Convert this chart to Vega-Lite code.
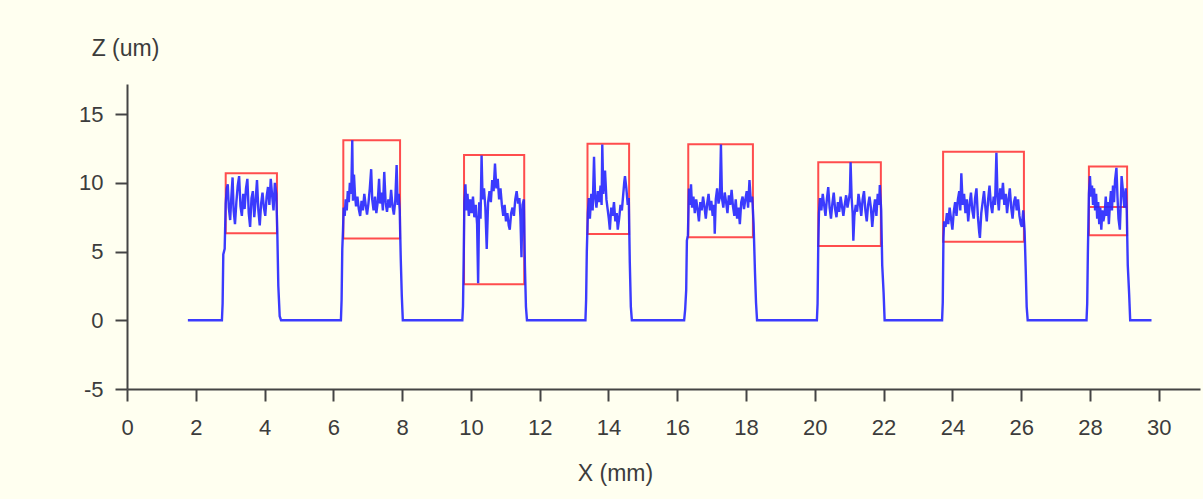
{
  "$schema": "https://vega.github.io/schema/vega-lite/v6.json",
  "width": 1073,
  "height": 305,
  "autosize": {"type": "none"},
  "padding": {"left": 127, "top": 84, "right": 3, "bottom": 110},
  "background": "#fffff0",
  "config": {
    "view": {"stroke": null},
    "font": "Liberation Sans",
    "axis": {
      "grid": false,
      "domainColor": "#444444",
      "domainWidth": 2,
      "tickColor": "#444444",
      "tickWidth": 2,
      "tickSize": 12,
      "labelFont": "Liberation Sans",
      "labelFontSize": 22,
      "labelColor": "#3c3c3c",
      "titleFont": "Liberation Sans",
      "titleFontSize": 23,
      "titleFontWeight": "normal",
      "titleColor": "#3c3c3c"
    }
  },
  "datasets": {
    "boxes": [
      {"x0": 2.87, "x1": 4.36, "zlo": 6.33, "zhi": 10.7},
      {"x0": 6.29, "x1": 7.94, "zlo": 5.96, "zhi": 13.1},
      {"x0": 9.8, "x1": 11.55, "zlo": 2.63, "zhi": 12.04},
      {"x0": 13.39, "x1": 14.6, "zlo": 6.28, "zhi": 12.85},
      {"x0": 16.32, "x1": 18.2, "zlo": 6.04, "zhi": 12.82},
      {"x0": 20.1, "x1": 21.92, "zlo": 5.4, "zhi": 11.5},
      {"x0": 23.73, "x1": 26.08, "zlo": 5.72, "zhi": 12.26},
      {"x0": 27.97, "x1": 29.08, "zlo": 6.2, "zhi": 11.19}
    ],
    "midlines": [
      {"x0": 27.97, "x1": 29.08, "z": 8.25}
    ],
    "profile": [
      {"x": 1.77, "z": 0}, {"x": 2.76, "z": 0}, {"x": 2.78, "z": 1.2}, {"x": 2.8, "z": 4.8}, {"x": 2.84, "z": 5.2}, {"x": 2.87, "z": 8.5}, {"x": 2.9, "z": 9.6}, {"x": 2.93, "z": 9.9}, {"x": 2.96, "z": 8.2}, {"x": 3.0, "z": 7.3}, {"x": 3.03, "z": 8.8}, {"x": 3.07, "z": 10.4}, {"x": 3.1, "z": 8.0}, {"x": 3.14, "z": 7.0}, {"x": 3.18, "z": 8.6}, {"x": 3.22, "z": 9.8}, {"x": 3.26, "z": 10.5}, {"x": 3.3, "z": 8.3}, {"x": 3.34, "z": 7.6}, {"x": 3.38, "z": 9.2}, {"x": 3.42, "z": 8.1}, {"x": 3.46, "z": 9.6}, {"x": 3.5, "z": 10.3}, {"x": 3.54, "z": 7.8}, {"x": 3.58, "z": 6.8}, {"x": 3.62, "z": 8.9}, {"x": 3.66, "z": 9.4}, {"x": 3.7, "z": 7.5}, {"x": 3.74, "z": 8.7}, {"x": 3.78, "z": 10.2}, {"x": 3.82, "z": 8.0}, {"x": 3.86, "z": 6.9}, {"x": 3.9, "z": 8.5}, {"x": 3.94, "z": 9.3}, {"x": 3.98, "z": 8.2}, {"x": 4.02, "z": 7.6}, {"x": 4.06, "z": 9.0}, {"x": 4.1, "z": 9.7}, {"x": 4.14, "z": 8.4}, {"x": 4.18, "z": 10.3}, {"x": 4.22, "z": 9.1}, {"x": 4.26, "z": 8.0}, {"x": 4.3, "z": 10.0}, {"x": 4.34, "z": 9.2}, {"x": 4.37, "z": 6.5}, {"x": 4.4, "z": 2.5}, {"x": 4.44, "z": 0.3}, {"x": 4.48, "z": 0},
      {"x": 6.22, "z": 0}, {"x": 6.24, "z": 1.5}, {"x": 6.26, "z": 5.2}, {"x": 6.28, "z": 6.5}, {"x": 6.3, "z": 8.2}, {"x": 6.33, "z": 7.6}, {"x": 6.36, "z": 8.8}, {"x": 6.39, "z": 8.0}, {"x": 6.42, "z": 9.4}, {"x": 6.45, "z": 8.6}, {"x": 6.48, "z": 10.0}, {"x": 6.52, "z": 9.2}, {"x": 6.55, "z": 13.1}, {"x": 6.57, "z": 8.7}, {"x": 6.6, "z": 10.6}, {"x": 6.63, "z": 9.1}, {"x": 6.66, "z": 8.3}, {"x": 6.7, "z": 9.0}, {"x": 6.74, "z": 8.1}, {"x": 6.78, "z": 7.6}, {"x": 6.82, "z": 8.7}, {"x": 6.86, "z": 8.0}, {"x": 6.9, "z": 9.2}, {"x": 6.94, "z": 8.4}, {"x": 6.98, "z": 7.7}, {"x": 7.02, "z": 8.5}, {"x": 7.06, "z": 9.6}, {"x": 7.1, "z": 11.0}, {"x": 7.13, "z": 8.8}, {"x": 7.17, "z": 8.0}, {"x": 7.21, "z": 9.0}, {"x": 7.25, "z": 7.8}, {"x": 7.29, "z": 8.6}, {"x": 7.33, "z": 10.3}, {"x": 7.36, "z": 8.5}, {"x": 7.4, "z": 9.3}, {"x": 7.44, "z": 8.0}, {"x": 7.48, "z": 10.8}, {"x": 7.52, "z": 8.6}, {"x": 7.56, "z": 7.9}, {"x": 7.6, "z": 8.8}, {"x": 7.64, "z": 8.2}, {"x": 7.68, "z": 9.5}, {"x": 7.72, "z": 8.3}, {"x": 7.76, "z": 7.7}, {"x": 7.8, "z": 8.7}, {"x": 7.84, "z": 11.3}, {"x": 7.87, "z": 8.4}, {"x": 7.9, "z": 9.2}, {"x": 7.93, "z": 8.0}, {"x": 7.96, "z": 4.5}, {"x": 7.99, "z": 1.8}, {"x": 8.02, "z": 0},
      {"x": 9.75, "z": 0}, {"x": 9.77, "z": 1.0}, {"x": 9.79, "z": 4.5}, {"x": 9.81, "z": 8.6}, {"x": 9.84, "z": 9.9}, {"x": 9.87, "z": 8.0}, {"x": 9.9, "z": 9.2}, {"x": 9.94, "z": 7.6}, {"x": 9.98, "z": 8.8}, {"x": 10.02, "z": 7.8}, {"x": 10.06, "z": 9.0}, {"x": 10.1, "z": 7.5}, {"x": 10.14, "z": 8.4}, {"x": 10.18, "z": 7.0}, {"x": 10.21, "z": 2.7}, {"x": 10.24, "z": 8.6}, {"x": 10.28, "z": 7.4}, {"x": 10.31, "z": 12.0}, {"x": 10.34, "z": 8.8}, {"x": 10.38, "z": 9.6}, {"x": 10.42, "z": 8.2}, {"x": 10.46, "z": 5.2}, {"x": 10.5, "z": 8.6}, {"x": 10.54, "z": 9.4}, {"x": 10.58, "z": 8.6}, {"x": 10.62, "z": 10.2}, {"x": 10.66, "z": 9.4}, {"x": 10.7, "z": 11.4}, {"x": 10.74, "z": 9.6}, {"x": 10.78, "z": 10.3}, {"x": 10.82, "z": 8.8}, {"x": 10.86, "z": 9.6}, {"x": 10.9, "z": 8.4}, {"x": 10.94, "z": 7.6}, {"x": 10.98, "z": 8.4}, {"x": 11.02, "z": 7.2}, {"x": 11.06, "z": 7.8}, {"x": 11.1, "z": 6.9}, {"x": 11.13, "z": 6.6}, {"x": 11.17, "z": 7.8}, {"x": 11.21, "z": 8.2}, {"x": 11.25, "z": 7.6}, {"x": 11.29, "z": 8.8}, {"x": 11.33, "z": 9.4}, {"x": 11.37, "z": 8.5}, {"x": 11.41, "z": 8.9}, {"x": 11.44, "z": 7.5}, {"x": 11.47, "z": 4.6}, {"x": 11.5, "z": 8.4}, {"x": 11.54, "z": 8.8}, {"x": 11.57, "z": 4.0}, {"x": 11.6, "z": 1.0}, {"x": 11.63, "z": 0},
      {"x": 13.33, "z": 0}, {"x": 13.35, "z": 1.5}, {"x": 13.37, "z": 5.0}, {"x": 13.4, "z": 7.8}, {"x": 13.43, "z": 8.9}, {"x": 13.46, "z": 7.4}, {"x": 13.5, "z": 9.2}, {"x": 13.54, "z": 8.0}, {"x": 13.58, "z": 11.9}, {"x": 13.61, "z": 9.0}, {"x": 13.65, "z": 8.2}, {"x": 13.69, "z": 9.4}, {"x": 13.73, "z": 8.6}, {"x": 13.77, "z": 9.8}, {"x": 13.8, "z": 8.4}, {"x": 13.82, "z": 12.8}, {"x": 13.85, "z": 9.2}, {"x": 13.9, "z": 10.9}, {"x": 13.94, "z": 8.8}, {"x": 13.98, "z": 8.0}, {"x": 14.01, "z": 7.4}, {"x": 14.04, "z": 6.6}, {"x": 14.08, "z": 8.2}, {"x": 14.12, "z": 7.6}, {"x": 14.16, "z": 8.6}, {"x": 14.2, "z": 7.2}, {"x": 14.24, "z": 7.8}, {"x": 14.27, "z": 6.6}, {"x": 14.31, "z": 7.4}, {"x": 14.35, "z": 8.4}, {"x": 14.39, "z": 8.0}, {"x": 14.43, "z": 9.2}, {"x": 14.46, "z": 10.1}, {"x": 14.48, "z": 10.5}, {"x": 14.52, "z": 9.6}, {"x": 14.56, "z": 8.4}, {"x": 14.59, "z": 8.9}, {"x": 14.62, "z": 4.2}, {"x": 14.65, "z": 1.0}, {"x": 14.68, "z": 0},
      {"x": 16.2, "z": 0}, {"x": 16.23, "z": 0.8}, {"x": 16.26, "z": 2.2}, {"x": 16.28, "z": 5.8}, {"x": 16.31, "z": 6.2}, {"x": 16.34, "z": 9.6}, {"x": 16.37, "z": 8.4}, {"x": 16.4, "z": 9.9}, {"x": 16.43, "z": 8.2}, {"x": 16.47, "z": 9.0}, {"x": 16.51, "z": 7.8}, {"x": 16.55, "z": 8.8}, {"x": 16.59, "z": 8.1}, {"x": 16.63, "z": 7.2}, {"x": 16.67, "z": 8.6}, {"x": 16.71, "z": 8.0}, {"x": 16.75, "z": 9.0}, {"x": 16.79, "z": 8.3}, {"x": 16.83, "z": 7.4}, {"x": 16.87, "z": 8.5}, {"x": 16.91, "z": 9.2}, {"x": 16.95, "z": 8.0}, {"x": 16.99, "z": 8.7}, {"x": 17.03, "z": 7.6}, {"x": 17.07, "z": 8.4}, {"x": 17.09, "z": 6.3}, {"x": 17.12, "z": 8.8}, {"x": 17.16, "z": 9.6}, {"x": 17.2, "z": 8.5}, {"x": 17.24, "z": 9.0}, {"x": 17.27, "z": 12.8}, {"x": 17.3, "z": 8.9}, {"x": 17.34, "z": 8.2}, {"x": 17.38, "z": 9.3}, {"x": 17.42, "z": 8.6}, {"x": 17.46, "z": 7.8}, {"x": 17.5, "z": 9.1}, {"x": 17.54, "z": 8.4}, {"x": 17.58, "z": 9.5}, {"x": 17.62, "z": 8.3}, {"x": 17.66, "z": 7.6}, {"x": 17.7, "z": 8.8}, {"x": 17.74, "z": 7.4}, {"x": 17.78, "z": 8.2}, {"x": 17.82, "z": 7.0}, {"x": 17.86, "z": 8.6}, {"x": 17.9, "z": 9.0}, {"x": 17.94, "z": 8.1}, {"x": 17.98, "z": 8.8}, {"x": 18.02, "z": 9.4}, {"x": 18.06, "z": 8.2}, {"x": 18.1, "z": 10.2}, {"x": 18.14, "z": 8.6}, {"x": 18.18, "z": 9.0}, {"x": 18.22, "z": 7.0}, {"x": 18.26, "z": 3.5}, {"x": 18.29, "z": 1.3}, {"x": 18.32, "z": 0},
      {"x": 20.06, "z": 0}, {"x": 20.08, "z": 1.2}, {"x": 20.1, "z": 5.5}, {"x": 20.12, "z": 7.8}, {"x": 20.15, "z": 8.9}, {"x": 20.19, "z": 8.0}, {"x": 20.23, "z": 9.2}, {"x": 20.27, "z": 8.4}, {"x": 20.31, "z": 7.6}, {"x": 20.35, "z": 8.8}, {"x": 20.39, "z": 9.7}, {"x": 20.43, "z": 8.2}, {"x": 20.47, "z": 7.4}, {"x": 20.51, "z": 8.5}, {"x": 20.55, "z": 9.3}, {"x": 20.59, "z": 8.1}, {"x": 20.63, "z": 7.5}, {"x": 20.67, "z": 8.6}, {"x": 20.71, "z": 7.9}, {"x": 20.75, "z": 9.0}, {"x": 20.79, "z": 8.3}, {"x": 20.83, "z": 7.6}, {"x": 20.87, "z": 8.4}, {"x": 20.91, "z": 9.1}, {"x": 20.95, "z": 8.2}, {"x": 20.99, "z": 8.8}, {"x": 21.02, "z": 9.3}, {"x": 21.04, "z": 11.5}, {"x": 21.07, "z": 8.9}, {"x": 21.1, "z": 7.8}, {"x": 21.12, "z": 5.8}, {"x": 21.15, "z": 7.6}, {"x": 21.19, "z": 8.4}, {"x": 21.23, "z": 7.9}, {"x": 21.27, "z": 9.2}, {"x": 21.31, "z": 8.5}, {"x": 21.35, "z": 7.6}, {"x": 21.39, "z": 8.8}, {"x": 21.43, "z": 9.4}, {"x": 21.47, "z": 8.0}, {"x": 21.51, "z": 7.2}, {"x": 21.55, "z": 8.4}, {"x": 21.59, "z": 9.0}, {"x": 21.63, "z": 8.2}, {"x": 21.67, "z": 6.8}, {"x": 21.71, "z": 8.0}, {"x": 21.75, "z": 8.8}, {"x": 21.79, "z": 7.6}, {"x": 21.83, "z": 9.2}, {"x": 21.87, "z": 8.4}, {"x": 21.89, "z": 9.85}, {"x": 21.93, "z": 8.0}, {"x": 21.96, "z": 4.0}, {"x": 22.0, "z": 2.0}, {"x": 22.03, "z": 0},
      {"x": 23.7, "z": 0}, {"x": 23.72, "z": 1.3}, {"x": 23.74, "z": 6.0}, {"x": 23.76, "z": 7.2}, {"x": 23.8, "z": 6.8}, {"x": 23.84, "z": 7.8}, {"x": 23.88, "z": 7.0}, {"x": 23.92, "z": 8.2}, {"x": 23.96, "z": 7.4}, {"x": 24.0, "z": 6.6}, {"x": 24.04, "z": 7.9}, {"x": 24.08, "z": 8.6}, {"x": 24.12, "z": 7.6}, {"x": 24.16, "z": 8.8}, {"x": 24.2, "z": 9.4}, {"x": 24.23, "z": 8.0}, {"x": 24.26, "z": 10.7}, {"x": 24.3, "z": 8.4}, {"x": 24.34, "z": 9.2}, {"x": 24.38, "z": 7.8}, {"x": 24.42, "z": 8.8}, {"x": 24.46, "z": 7.2}, {"x": 24.5, "z": 8.4}, {"x": 24.54, "z": 9.3}, {"x": 24.58, "z": 8.0}, {"x": 24.62, "z": 7.4}, {"x": 24.66, "z": 8.9}, {"x": 24.7, "z": 9.6}, {"x": 24.74, "z": 7.6}, {"x": 24.78, "z": 6.4}, {"x": 24.8, "z": 6.0}, {"x": 24.84, "z": 7.8}, {"x": 24.88, "z": 8.6}, {"x": 24.92, "z": 9.4}, {"x": 24.96, "z": 8.2}, {"x": 25.0, "z": 7.2}, {"x": 25.04, "z": 8.8}, {"x": 25.08, "z": 9.8}, {"x": 25.12, "z": 8.4}, {"x": 25.16, "z": 7.8}, {"x": 25.2, "z": 9.0}, {"x": 25.24, "z": 8.4}, {"x": 25.28, "z": 12.2}, {"x": 25.31, "z": 9.2}, {"x": 25.35, "z": 8.0}, {"x": 25.39, "z": 9.6}, {"x": 25.43, "z": 8.8}, {"x": 25.47, "z": 10.0}, {"x": 25.51, "z": 8.4}, {"x": 25.55, "z": 9.2}, {"x": 25.59, "z": 7.8}, {"x": 25.63, "z": 8.8}, {"x": 25.67, "z": 9.6}, {"x": 25.71, "z": 8.2}, {"x": 25.75, "z": 7.4}, {"x": 25.79, "z": 8.6}, {"x": 25.83, "z": 9.0}, {"x": 25.87, "z": 8.0}, {"x": 25.91, "z": 8.8}, {"x": 25.95, "z": 7.6}, {"x": 25.99, "z": 7.0}, {"x": 26.02, "z": 6.8}, {"x": 26.06, "z": 8.0}, {"x": 26.1, "z": 6.5}, {"x": 26.13, "z": 3.9}, {"x": 26.16, "z": 1.0}, {"x": 26.19, "z": 0},
      {"x": 27.9, "z": 0}, {"x": 27.92, "z": 1.2}, {"x": 27.94, "z": 5.0}, {"x": 27.97, "z": 9.2}, {"x": 28.0, "z": 10.5}, {"x": 28.03, "z": 9.0}, {"x": 28.06, "z": 9.8}, {"x": 28.09, "z": 8.4}, {"x": 28.12, "z": 9.6}, {"x": 28.15, "z": 8.0}, {"x": 28.18, "z": 9.2}, {"x": 28.21, "z": 7.4}, {"x": 28.24, "z": 8.6}, {"x": 28.27, "z": 7.0}, {"x": 28.3, "z": 8.2}, {"x": 28.33, "z": 6.6}, {"x": 28.36, "z": 8.0}, {"x": 28.39, "z": 7.2}, {"x": 28.43, "z": 7.8}, {"x": 28.46, "z": 9.0}, {"x": 28.49, "z": 7.6}, {"x": 28.52, "z": 8.6}, {"x": 28.55, "z": 7.0}, {"x": 28.58, "z": 8.4}, {"x": 28.61, "z": 9.4}, {"x": 28.64, "z": 8.0}, {"x": 28.67, "z": 9.8}, {"x": 28.7, "z": 8.6}, {"x": 28.73, "z": 10.2}, {"x": 28.77, "z": 11.1}, {"x": 28.8, "z": 9.0}, {"x": 28.83, "z": 7.4}, {"x": 28.87, "z": 6.6}, {"x": 28.9, "z": 8.8}, {"x": 28.92, "z": 10.5}, {"x": 28.96, "z": 9.4}, {"x": 29.0, "z": 8.2}, {"x": 29.04, "z": 9.6}, {"x": 29.07, "z": 8.0}, {"x": 29.1, "z": 4.0}, {"x": 29.14, "z": 1.9}, {"x": 29.17, "z": 0}, {"x": 29.79, "z": 0}
    ]
  },
  "layer": [
    {
      "data": {"name": "boxes"},
      "mark": {"type": "rect", "filled": false, "stroke": "#ff4d4d", "strokeWidth": 2},
      "encoding": {
        "x": {"field": "x0", "type": "quantitative", "scale": {"domain": [0, 31.2], "nice": false, "zero": false},
          "axis": {"values": [0, 2, 4, 6, 8, 10, 12, 14, 16, 18, 20, 22, 24, 26, 28, 30], "title": "X (mm)", "labelPadding": 16, "titleX": 488, "titleY": 84, "titleAlign": "center", "titleBaseline": "middle", "labelFlush": false}},
        "x2": {"field": "x1"},
        "y": {"field": "zlo", "type": "quantitative", "scale": {"domain": [-5, 17.2], "nice": false, "zero": false},
          "axis": {"values": [-5, 0, 5, 10, 15], "title": "Z (um)", "labelPadding": 12, "labelExpr": "replace(datum.label, '−', '-')", "titleAngle": 0, "titleX": -2, "titleY": -36, "titleAlign": "center", "titleBaseline": "middle", "labelFlush": false}},
        "y2": {"field": "zhi"}
      }
    },
    {
      "data": {"name": "midlines"},
      "mark": {"type": "rule", "stroke": "#ff4d4d", "strokeWidth": 2},
      "encoding": {
        "x": {"field": "x0", "type": "quantitative"},
        "x2": {"field": "x1"},
        "y": {"field": "z", "type": "quantitative"}
      }
    },
    {
      "data": {"name": "profile"},
      "mark": {"type": "line", "stroke": "#2626ff", "strokeWidth": 2.4, "opacity": 0.9},
      "encoding": {
        "x": {"field": "x", "type": "quantitative"},
        "y": {"field": "z", "type": "quantitative"},
        "order": {"field": "x", "type": "quantitative"}
      }
    }
  ]
}
